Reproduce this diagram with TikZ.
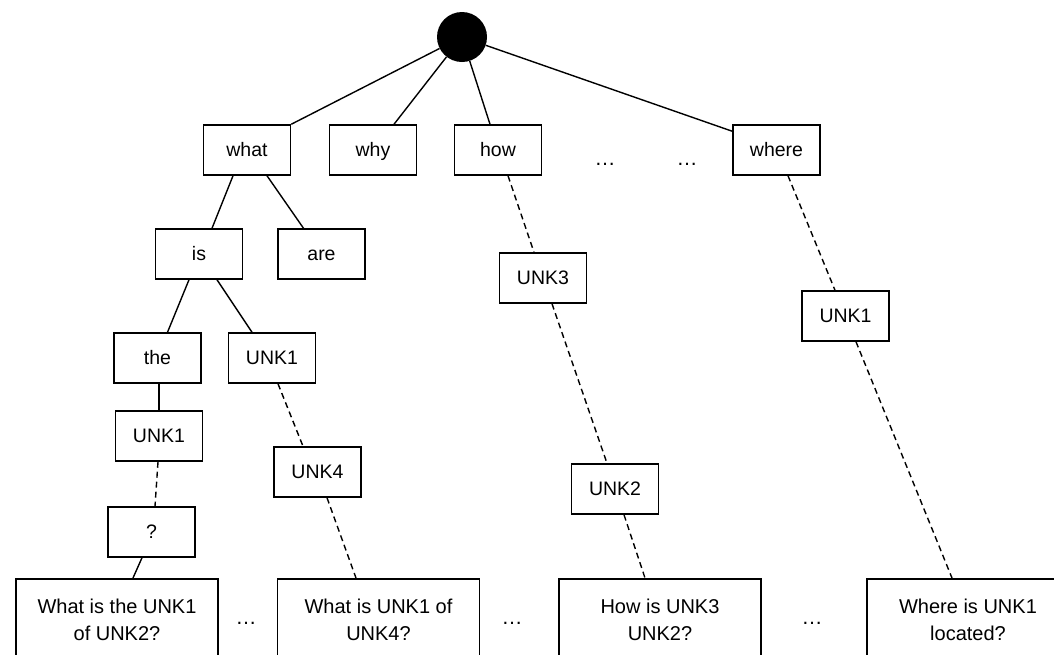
\documentclass[tikz,border=0pt]{standalone}
\usepackage{fontspec}
\setmainfont{Liberation Sans}
\usetikzlibrary{calc}
\begin{document}
\begin{tikzpicture}[x=1pt,y=-1pt,
  wbox/.style={draw,line width=1.5pt,minimum width=87pt,minimum height=50pt,inner sep=0pt,text height=13.8pt,text depth=0pt,font=\fontsize{19.5}{23}\selectfont},
  qbox/.style={draw,line width=1.5pt,minimum width=202pt,minimum height=82pt,inner sep=0pt,anchor=north,align=center,font=\fontsize{20}{27}\selectfont},
  edge/.style={line width=1.4pt},
  dedge/.style={line width=1.4pt,dash pattern=on 6pt off 4pt},
  dots/.style={inner sep=0pt,font=\fontsize{21}{24}\selectfont}]
\useasboundingbox (0,0) rectangle (1054,654);
\clip (0,0) rectangle (1054,654);
\node[circle,fill=black,minimum size=50pt,inner sep=0pt] (root) at (462,37) {};
\node[wbox] (what) at (247,150) {what};
\node[wbox] (why) at (373,150) {why};
\node[wbox] (how) at (498,150) {how};
\node[wbox] (where) at (776.5,150) {where};
\node[dots] (d1) at (605,164) {…};
\node[dots] (d2) at (687,164) {…};
\node[wbox] (is) at (199,254) {is};
\node[wbox] (are) at (321.5,254) {are};
\node[wbox] (the) at (157.5,358) {the};
\node[wbox] (unka) at (272,358) {UNK1};
\node[wbox] (unkb) at (159,436) {UNK1};
\node[wbox] (unkfour) at (317.5,472) {UNK4};
\node[wbox] (q) at (151.5,532) {?};
\node[wbox] (unkthree) at (543,278) {UNK3};
\node[wbox] (unktwo) at (615,489) {UNK2};
\node[wbox] (unkr) at (845.5,316) {UNK1};
\node[qbox] (b1) at (117,578) {What is the UNK1\\of UNK2?};
\node[qbox] (b2) at (378.5,578) {What is UNK1 of\\UNK4?};
\node[qbox] (b3) at (660,578) {How is UNK3\\UNK2?};
\node[qbox] (b4) at (968,578) {Where is UNK1\\located?};
\node[dots] (d3) at (246,623) {…};
\node[dots] (d4) at (512,623) {…};
\node[dots] (d5) at (812,623) {…};
\draw[edge] (root) -- (what.north east);
\draw[edge] (root) -- ($(why.north)+(21,0)$);
\draw[edge] (root) -- ($(how.north)+(-8,0)$);
\draw[edge] (root) -- ($(where.north west)+(0,7)$);
\draw[edge] ($(what.south)+(-14,0)$) -- ($(is.north)+(13,0)$);
\draw[edge] ($(what.south)+(20,0)$) -- ($(are.north)+(-18,0)$);
\draw[edge] ($(is.south)+(-10,0)$) -- ($(the.north)+(10,0)$);
\draw[edge] ($(is.south)+(18,0)$) -- ($(unka.north)+(-20,0)$);
\draw[edge] (unkb.north) -- (unkb.north |- the.south);
\draw[dedge] ($(unkb.south)+(-1,0)$) -- ($(q.north)+(3.5,0)$);
\draw[edge] ($(q.south)+(-9.5,0)$) -- ($(b1.north)+(16,0)$);
\draw[dedge] ($(unka.south)+(6,0)$) -- ($(unkfour.north)+(-14.5,0)$);
\draw[dedge] ($(unkfour.south)+(9.5,0)$) -- ($(b2.north)+(-22.5,0)$);
\draw[dedge] ($(how.south)+(10,0)$) -- ($(unkthree.north)+(-9,0)$);
\draw[dedge] ($(unkthree.south)+(9,0)$) -- ($(unktwo.north)+(-8,0)$);
\draw[dedge] ($(unktwo.south)+(9,0)$) -- ($(b3.north)+(-15,0)$);
\draw[dedge] ($(where.south)+(11.5,0)$) -- ($(unkr.north)+(-10.5,0)$);
\draw[dedge] ($(unkr.south)+(10.5,0)$) -- ($(b4.north)+(-16,0)$);
\end{tikzpicture}
\end{document}
